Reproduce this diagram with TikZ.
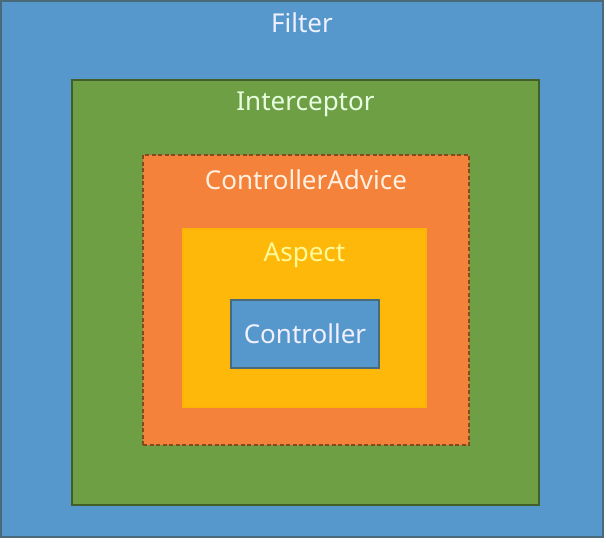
\documentclass[tikz,border=0pt]{standalone}
\usepackage{fontspec}
\setmainfont{Noto Sans}
\usepackage{tikz}
\usepackage{xcolor}
\usetikzlibrary{positioning,calc}

\definecolor{filterblue}{HTML}{5697CC}
\definecolor{icgreen}{HTML}{6E9F45}
\definecolor{advorange}{HTML}{F5823A}
\definecolor{aspyellow}{HTML}{FDB809}
\definecolor{edgedark}{HTML}{4A6A7A}

\begin{document}
\begin{tikzpicture}[x=1pt,y=-1pt,
 box/.style={draw=edgedark,line width=1.2pt,inner sep=0pt},
 lbl/.style={font=\fontsize{26}{30}\selectfont,inner sep=0pt}]
\useasboundingbox[fill=white] (0,0) rectangle (606,543);

\node[box,fill=filterblue,minimum width=602,minimum height=536] (filter) at (302,269) {};
\node[box,draw=icgreen!60!black,fill=icgreen,minimum width=467,minimum height=425] (inter) at (305.5,292.5) {};
\node[box,draw=advorange!55!black,dash pattern=on 4pt off 2.5pt,fill=advorange,minimum width=326,minimum height=290] (advice) at (306,300) {};
\node[box,draw=aspyellow!90!orange,fill=aspyellow,minimum width=243,minimum height=178] (aspect) at (304.5,318) {};
\node[box,fill=filterblue,minimum width=148,minimum height=68] (ctrl) at (305,334) {};

% labels
\node[lbl,text=blue!6!white] (filterlbl) at ($(filter.north)+(0,22)$) {Filter};
\node[lbl,text=green!70!lime!12!white] (interlbl) at ($(inter.north)+(0,25)$) {Interceptor};
\node[lbl,text=orange!12!white] (advicelbl) at ($(advice.north)+(0,25)$) {ControllerAdvice};
\node[lbl,text=yellow!40!white] (aspectlbl) at ($(aspect.north)+(0,27)$) {Aspect};
\node[lbl,text=blue!6!white] (ctrllbl) at (ctrl) {Controller};

\end{tikzpicture}
\end{document}
